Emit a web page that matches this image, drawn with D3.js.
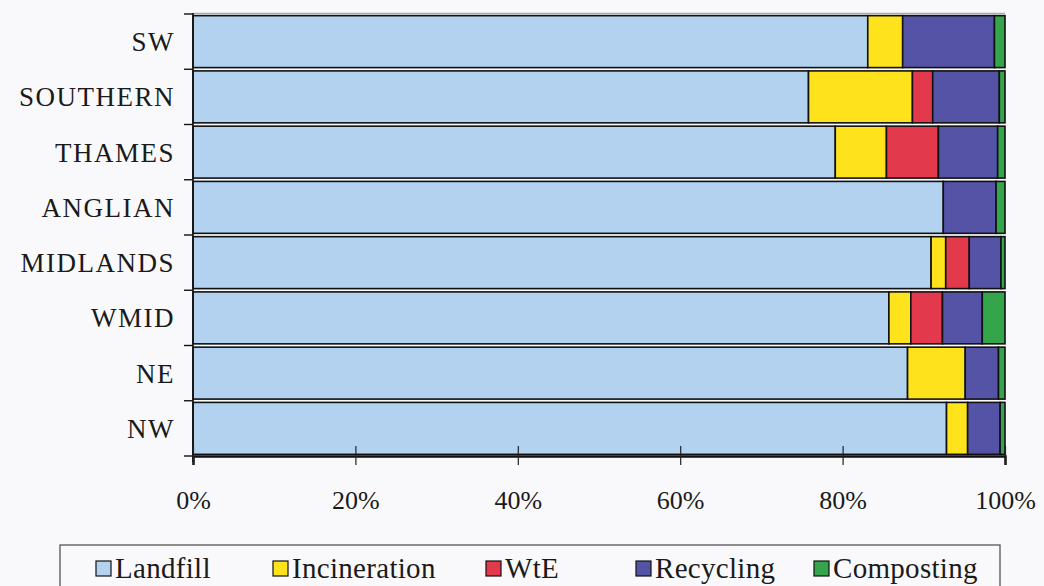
<!doctype html>
<html>
<head>
<meta charset="UTF-8" />
<title>Waste management by region</title>
<style type="text/css">
body {
	margin: 0;
	background: #f9f9fb;
}
svg {
	display: block;
}
svg text {
	font-family: "Liberation Serif", "DejaVu Serif", serif;
}
.bar rect {
	stroke: #111;
	stroke-width: 1.6px;
}
.y.axis text {
	font-size: 27px;
	letter-spacing: 1.5px;
	fill: #1a1a1a;
}
.legend text {
	font-size: 29px;
	letter-spacing: 0.3px;
	fill: #1a1a1a;
}
</style>
<script src="https://d3js.org/d3.v7.min.js"></script>
</head>
<body>
<script>
	// regions, top to bottom
	var regions = ["SW", "SOUTHERN", "THAMES", "ANGLIAN", "MIDLANDS", "WMID", "NE", "NW"];

	// shares in %
	var landfill     = [83.1, 75.8, 79.1, 92.4, 90.9, 85.7, 88.0, 92.8];
	var incineration = [ 4.3, 12.8,  6.3,  0.0,  1.8,  2.7,  7.1,  2.6];
	var wte          = [ 0.0,  2.5,  6.4,  0.0,  2.9,  3.9,  0.0,  0.0];
	var recycling    = [11.3,  8.2,  7.3,  6.5,  3.9,  4.9,  4.1,  4.0];
	var composting   = [ 1.3,  0.7,  0.9,  1.1,  0.5,  2.8,  0.8,  0.6];

	var seriesNames = ["Landfill", "Incineration", "WtE", "Recycling", "Composting"];
	var xTicks = [0, 20, 40, 60, 80, 100];

	var colours = ["#b3d2ef", "#fde21c", "#e2394c", "#5553a6", "#35a54c"];

	var width = 1044, height = 586;

	var table = regions.map(function(r, i) {
		return {
			region: r,
			Landfill: landfill[i],
			Incineration: incineration[i],
			WtE: wte[i],
			Recycling: recycling[i],
			Composting: composting[i]
		};
	});

	var x = d3.scaleLinear()
		.domain([0, 100])
		.range([193, 1005]);

	var y = d3.scaleBand()
		.domain(regions)
		.range([14, 456])
		.paddingInner(0.06)
		.paddingOuter(0.03);

	var color = d3.scaleOrdinal()
		.domain(seriesNames)
		.range(colours);

	var stack = d3.stack().keys(seriesNames);
	var layers = stack(table);

	var svg = d3.select("body").append("svg")
		.attr("width", width)
		.attr("height", height);

	// top frame line
	svg.append("line")
		.attr("x1", x(0)).attr("x2", x(100))
		.attr("y1", 13.5).attr("y2", 13.5)
		.style("stroke", "#aaa")
		.style("stroke-width", 1.5);

	svg.append("g")
		.selectAll("g")
		.data(layers)
		.join("g")
			.attr("class", "bar")
			.style("fill", function(d) { return color(d.key); })
		.selectAll("rect")
		.data(function(d) { return d.filter(function(p) { return p[1] - p[0] > 0; }); })
		.join("rect")
			.attr("x", function(d) { return x(d[0]); })
			.attr("y", function(d) { return y(d.data.region); })
			.attr("width", function(d) { return x(d[1]) - x(d[0]); })
			.attr("height", y.bandwidth());

	// y axis: tick marks sit on band boundaries, labels at band centres
	var yAxisG = svg.append("g").attr("class", "y axis");

	yAxisG.append("line")
		.attr("x1", x(0)).attr("x2", x(0))
		.attr("y1", 13).attr("y2", 462)
		.style("stroke", "#111")
		.style("stroke-width", 1.6);

	var bounds = regions.map(function(r) { return y(r) - y.step() * y.paddingInner() / 2; });
	bounds.push(456);

	yAxisG.selectAll("line.tick")
		.data(bounds)
		.join("line")
			.attr("class", "tick")
			.attr("x1", x(0) - 9).attr("x2", x(0))
			.attr("y1", function(d) { return d; })
			.attr("y2", function(d) { return d; })
			.style("stroke", "#111")
			.style("stroke-width", 1.4);

	yAxisG.selectAll("text")
		.data(regions)
		.join("text")
			.attr("x", 175)
			.attr("y", function(d) { return y(d) + y.bandwidth() / 2; })
			.attr("dy", "0.35em")
			.style("text-anchor", "end")
			.text(function(d) { return d; });

	// x axis
	var xAxis = d3.axisBottom(x)
		.tickValues(xTicks)
		.tickSize(9)
		.tickPadding(26)
		.tickFormat(function(d) { return d + "%"; });

	var xAxisG = svg.append("g")
		.attr("class", "x axis")
		.attr("transform", "translate(0,456)")
		.call(xAxis);

	xAxisG.selectAll(".tick text")
		.style("font-family", "'Liberation Serif', serif")
		.style("font-size", "26px")
		.style("fill", "#1a1a1a");

	xAxisG.select(".domain")
		.style("stroke", "#111")
		.style("stroke-width", 2.5);

	xAxisG.selectAll(".tick line")
		.attr("y1", -10)
		.style("stroke", "#222")
		.style("stroke-width", 1.2);

	// legend
	var legendX = [96, 273, 486, 636, 814];

	var legend = svg.append("g").attr("class", "legend");

	legend.append("rect")
		.attr("x", 60)
		.attr("y", 545)
		.attr("width", 940)
		.attr("height", 50)
		.style("fill", "none")
		.style("stroke", "#555")
		.style("stroke-width", 1.3);

	var items = legend.selectAll("g.item")
		.data(seriesNames)
		.join("g")
			.attr("class", "item")
			.attr("transform", function(d, i) { return "translate(" + legendX[i] + ",0)"; });

	items.append("rect")
		.attr("x", 0)
		.attr("y", 561)
		.attr("width", 15)
		.attr("height", 15)
		.style("fill", function(d) { return color(d); })
		.style("stroke", "#111")
		.style("stroke-width", 1.2);

	items.append("text")
		.attr("x", 19)
		.attr("y", 578)
		.text(function(d) { return d; });
</script>
</body>
</html>
